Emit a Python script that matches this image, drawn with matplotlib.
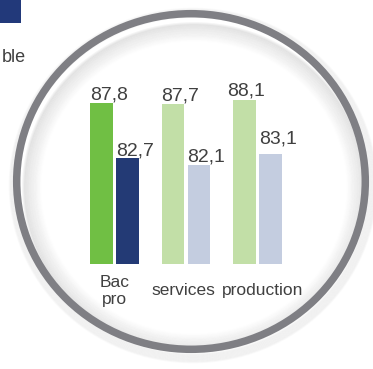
import numpy as np
import matplotlib.pyplot as plt
from matplotlib.patches import Ellipse, Rectangle

plt.rcParams['font.family'] = ['Liberation Sans', 'DejaVu Sans']

# Données
categories = ['Bac\npro', 'services', 'production']
serie_a = [87.8, 87.7, 88.1]
serie_b = [82.7, 82.1, 83.1]
couleurs_a = ['#70bf44', '#c2dfa7', '#c2dfa7']
couleurs_b = ['#233a75', '#c4cde0', '#c4cde0']

W, H = 373, 369
fig = plt.figure(figsize=(W / 100, H / 100), dpi=100)

# Fond : cercle gris avec ombre
bg = fig.add_axes([0, 0, 1, 1])
bg.set_xlim(0, W)
bg.set_ylim(H, 0)
bg.axis('off')
cx, cy, rx, ry = 191, 181.5, 174.3, 167.8
for k in range(12):
    bg.add_patch(Ellipse((cx + 2, cy + 4), 2 * rx + 18 - k * 1.5, 2 * ry + 18 - k * 1.5,
                         fill=False, lw=1.5, color='#808080', alpha=0.035))
for k in range(16):
    bg.add_patch(Ellipse((cx + 3, cy + 6), 2 * rx - 8 - k * 2.2, 2 * ry - 8 - k * 2.2,
                         fill=False, lw=2.2, color='#6a6a6a', alpha=0.07 * (1 - k / 16)))
bg.add_patch(Ellipse((cx, cy), 2 * rx, 2 * ry, fill=False, lw=5.4, color='#7f7f84'))
bg.add_patch(Rectangle((0, 0), 21, 23, color='#22397a', lw=0))
bg.text(26, 57, 'ble', ha='right', va='center', fontsize=13, color='#404040')

# Graphique à barres
px = 10.8  # pixels par unité
base = 72.9
top = base + 224 / px
ax = fig.add_axes([60 / W, (H - 264) / H, 250 / W, 224 / H])
ax.patch.set_alpha(0)
x = np.arange(len(categories))
w = 0.32
off = 0.182
ax.bar(x - off, np.array(serie_a) - base, w, bottom=base, color=couleurs_a)
ax.bar(x + off, np.array(serie_b) - base, w, bottom=base, color=couleurs_b)

# décalages des étiquettes (pixels)
dx_a, dy_a = [0, 0, -6], [4, 4, 4]
dx_b, dy_b = [0, 0, 0], [3, 3, 10]
unit_x = 71.5
for i in range(len(categories)):
    ax.text(x[i] - off - w / 2 + dx_a[i] / unit_x, serie_a[i] + dy_a[i] / px,
            f'{serie_a[i]:.1f}'.replace('.', ','),
            ha='left', va='baseline', fontsize=14, color='#404040')
    ax.text(x[i] + off - w / 2 + dx_b[i] / unit_x, serie_b[i] + dy_b[i] / px,
            f'{serie_b[i]:.1f}'.replace('.', ','),
            ha='left', va='baseline', fontsize=14, color='#404040')
ax.set_xlim(-0.762, 2.734)
ax.set_ylim(base, top)
lab_x = [0, -0.04, 0.065]
for i, c in enumerate(categories):
    ax.text(x[i] + lab_x[i], base - 27 / px, c, ha='center', va='center',
            fontsize=12.5, color='#404040', linespacing=1.2)
ax.set_xticks([])
ax.set_yticks([])
for s in ax.spines.values():
    s.set_visible(False)

fig.savefig('out.png', dpi=100)
